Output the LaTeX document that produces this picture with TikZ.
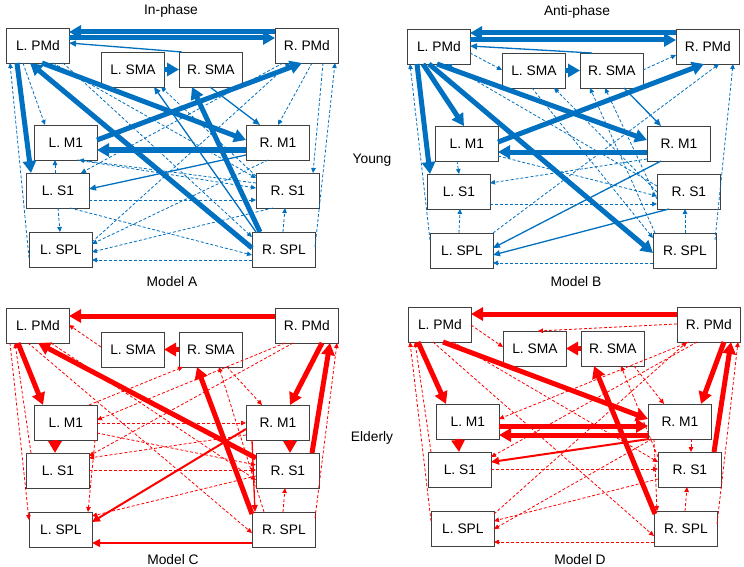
\documentclass[tikz,border=0pt]{standalone}
\usepackage{fontspec}
\setmainfont{Liberation Sans}
\usetikzlibrary{arrows.meta}
\definecolor{myblue}{RGB}{0,112,192}
\definecolor{myred}{RGB}{255,0,0}
\definecolor{boxc}{RGB}{64,64,64}
\colorlet{ec}{myblue}
% edge: [style]{from}{dx,dy from its top-left}{to}{dx,dy from its top-left}
\newcommand\E[5][dsh]{\draw[#1] ([shift={(#3)}]#2.north west) -- ([shift={(#5)}]#4.north west);}
\newcommand\brainnodes{%
  \node[box] (LPMd) at (6,28) {L. PMd};
  \node[box] (LSMA) at (101,52) {L. SMA};
  \node[box] (RSMA) at (179,52) {R. SMA};
  \node[box] (RPMd) at (275,28) {R. PMd};
  \node[box] (LM1) at (34,125) {L. M1};
  \node[box] (RM1) at (246,125) {R. M1};
  \node[box] (LS1) at (26,173) {L. S1};
  \node[box] (RS1) at (256,173) {R. S1};
  \node[box] (LSPL) at (29,232) {L. SPL};
  \node[box] (RSPL) at (252,232) {R. SPL};
}
\begin{document}
\begin{tikzpicture}[x=1pt,y=-1pt,
  box/.style={draw=boxc, fill=white, line width=0.8pt, minimum width=63pt,
    minimum height=35pt, inner sep=0pt, anchor=north west,
    font=\fontsize{13.8}{16}\selectfont},
  lbl/.style={font=\fontsize{13.8}{16}\selectfont, inner sep=0pt},
  thk/.style={draw=ec, line width=5pt, -{Triangle[length=12pt,width=13pt]}},
  sol/.style={draw=ec, line width=1.3pt, -{Triangle[length=7pt,width=6pt]}},
  med/.style={draw=ec, line width=2pt, -{Triangle[length=8pt,width=7.5pt]}},
  dsh/.style={draw=ec, line width=0.8pt, dash pattern=on 3pt off 2pt, -{Triangle[length=5pt,width=4.5pt]}}]
\useasboundingbox[fill=white] (0,0) rectangle (744,567);

\node[lbl] (tA) at (171,11) {In-phase};
\node[lbl] (tB) at (577,12) {Anti-phase};
\node[lbl] (mA) at (172,282) {Model A};
\node[lbl] (mB) at (576,282) {Model B};
\node[lbl] (mC) at (173,560) {Model C};
\node[lbl] (mD) at (580,560) {Model D};
\node[lbl] (young) at (372,160) {Young};
\node[lbl] (elderly) at (372,438) {Elderly};

% ---------------- Panel A ----------------
\begin{scope}[name prefix=A-]
\colorlet{ec}{myblue}
\brainnodes
\E{LSPL}{0,26}{LPMd}{4,35}
\E{LPMd}{17,35}{LM1}{11,0}
\E{LPMd}{47,35}{RS1}{0,5}
\E{LPMd}{57,35}{RSPL}{0,5}
\E{LS1}{29,0}{LM1}{21,35}
\E{LS1}{32,35}{LSPL}{31,0}
\E{LS1}{63,27}{RS1}{0,27}
\E{RSPL}{0,28}{LSPL}{63,28}
\E{LS1}{44,35}{RSPL}{0,23}
\E{RSPL}{31,0}{RS1}{29,35}
\E{RSPL}{63,15}{RPMd}{60,35}
\E{RPMd}{37,35}{RM1}{32,0}
\E{RPMd}{48,35}{RS1}{57,0}
\E{LSPL}{63,10}{RPMd}{15,35}
\E{RPMd}{8,35}{LS1}{55,0}
\E{LM1}{43,35}{RS1}{0,15}
\E{RS1}{0,10}{LM1}{45,35}
\E{RS1}{17,35}{LSPL}{63,20}
\E{RM1}{22,35}{LSPL}{63,12}
\E{RS1}{0,3}{LSMA}{60,35}
\E[thk]{RPMd}{0,4}{LPMd}{63,4}
\E[thk]{LPMd}{63,10}{RPMd}{0,10}
\E[sol]{RSMA}{3,0}{LPMd}{63,15}
\E[thk]{LSMA}{63,17.5}{RSMA}{0,17.5}
\E[thk]{LPMd}{11,35}{LS1}{5,0}
\E[thk]{LPMd}{36,35}{RM1}{0,15}
\E[thk]{RSPL}{0,16}{LPMd}{24,35}
\E[thk]{RM1}{0,25}{LM1}{63,25}
\E[thk]{LM1}{63,15}{RPMd}{27,35}
\E[sol]{RM1}{0,30}{LS1}{63,16}
\E[thk]{RSPL}{8,0}{RSMA}{13,35}
\E[sol]{RSPL}{4,0}{LSMA}{53,35}
\E[sol]{RSMA}{31,35}{RM1}{14,0}
\end{scope}

% ---------------- Panel B ----------------
\begin{scope}[shift={(401,1)}, name prefix=B-]
\colorlet{ec}{myblue}
\brainnodes
\E{LSPL}{0,7}{LPMd}{3,35}
\E{LPMd}{63,24}{LSMA}{0,17}
\E{LM1}{22,35}{LS1}{32,0}
\E{LSPL}{29,0}{LS1}{33,35}
\E{LS1}{63,30}{RS1}{0,30}
\E{RSPL}{0,30}{LSPL}{63,30}
\E{RSPL}{32,0}{RS1}{28,35}
\E{RSPL}{62,7}{RPMd}{57,35}
\E{RSMA}{63,17}{RPMd}{0,26}
\E{LSPL}{63,0}{RPMd}{43,35}
\E{RM1}{0,33}{LS1}{63,9}
\E{LM1}{63,30}{RS1}{0,22}
\E{RSPL}{2,0}{RSMA}{10,35}
\E{RS1}{0,25}{RSMA}{25,35}
\E{RS1}{0,18}{LSMA}{52,35}
\E{LSMA}{30,35}{RSPL}{0,5}
\E{RS1}{0,12}{LPMd}{40,35}
\E[thk]{RPMd}{0,4}{LPMd}{63,4}
\E[thk]{LPMd}{63,11}{RPMd}{0,11}
\E[sol]{RSMA}{12,0}{LPMd}{63,17}
\E[thk]{LSMA}{63,17.5}{RSMA}{0,17.5}
\E[thk]{LPMd}{10,35}{LS1}{3,0}
\E[thk]{LPMd}{16,35}{LM1}{29,0}
\E[thk]{LPMd}{30,35}{RM1}{0,14}
\E[thk]{LPMd}{22,35}{RSPL}{0,20}
\E[thk]{RM1}{0,26}{LM1}{63,26}
\E[thk]{LM1}{63,16}{RPMd}{28,35}
\E[sol]{RSMA}{44,35}{RM1}{14,0}
\E[sol]{RM1}{14,35}{LSPL}{63,15}
\E[sol]{RS1}{12,35}{LSPL}{63,22}
\end{scope}

% ---------------- Panel C ----------------
\begin{scope}[shift={(0,280)}, name prefix=C-]
\colorlet{ec}{myred}
\brainnodes
\E{LSMA}{0,15}{LPMd}{63,17}
\E{LPMd}{4,35}{LSPL}{0,8}
\E{LS1}{5,0}{LPMd}{9,35}
\E{LPMd}{22,35}{RSPL}{0,21}
\E{LPMd}{45,35}{RS1}{0,27}
\E{LM1}{63,18}{RM1}{0,18}
\E{LM1}{63,28}{RS1}{0,12}
\E{LS1}{63,17}{RS1}{0,17}
\E{RM1}{0,30}{LS1}{63,5}
\E{LM1}{61,35}{LSPL}{59,0}
\E{RS1}{0,23}{LSPL}{63,4}
\E{LM1}{55,0}{RSMA}{4,35}
\E{RPMd}{10,35}{LM1}{63,15}
\E{RPMd}{18,35}{LS1}{63,3}
\E{RSMA}{48,35}{RM1}{16,0}
\E{RSPL}{31,0}{RS1}{29,35}
\E{RSPL}{63,6}{RPMd}{62,35}
\E{RSPL}{12,0}{RSMA}{40,35}
\E[thk]{RPMd}{0,8}{LPMd}{63,8}
\E[thk]{RSMA}{0,17.5}{LSMA}{63,17.5}
\E[thk]{LPMd}{12,35}{LM1}{9,0}
\E[thk]{LM1}{21,35}{LS1}{29,0}
\E[thk]{RS1}{0,5}{LPMd}{32,35}
\E[thk]{RSPL}{0,2}{RSMA}{18,35}
\E[thk]{RPMd}{47,35}{RM1}{44,0}
\E[thk]{RS1}{56,0}{RPMd}{55,35}
\E[thk]{RM1}{44,35}{RS1}{34,0}
\E[med]{RM1}{0,24}{LSPL}{63,10}
\E[med]{RSPL}{0,31}{LSPL}{63,31}
\E[sol]{RM1}{6,35}{RSPL}{3,0}
\end{scope}

% ---------------- Panel D ----------------
\begin{scope}[shift={(402,279)}, name prefix=D-]
\colorlet{ec}{myred}
\brainnodes
\E{LSPL}{0,10}{LPMd}{2,35}
\E{LS1}{3,0}{LPMd}{7,35}
\E{LPMd}{63,18}{LSMA}{0,16}
\E{RPMd}{0,17}{LSMA}{35,0}
\E{LPMd}{25,35}{RSPL}{0,25}
\E{LPMd}{45,35}{RS1}{0,10}
\E{LS1}{63,17}{RS1}{0,17}
\E{RSPL}{0,31}{LSPL}{63,31}
\E{RSPL}{31,0}{RS1}{29,35}
\E{RSPL}{63,13}{RPMd}{61,35}
\E{RM1}{43,35}{RS1}{33,0}
\E{RM1}{6,35}{RSPL}{3,0}
\E{RSMA}{53,35}{RM1}{16,0}
\E{RS1}{0,5}{RSMA}{40,35}
\E{RPMd}{12,35}{LM1}{63,15}
\E{RPMd}{20,35}{LS1}{63,5}
\E{RS1}{0,27}{LSPL}{63,10}
\E{RM1}{4,35}{LSPL}{63,18}
\E{LSPL}{63,3}{RPMd}{10,35}
\E[thk]{RPMd}{0,7}{LPMd}{63,7}
\E[thk]{RSMA}{0,17.5}{LSMA}{63,17.5}
\E[thk]{LPMd}{10,35}{LM1}{10,0}
\E[thk]{LPMd}{35,35}{RM1}{0,15}
\E[thk]{LM1}{63,22}{RM1}{0,22}
\E[thk]{RM1}{0,31}{LM1}{63,31}
\E[thk]{LM1}{22,35}{LS1}{31,0}
\E[med]{RM1}{1,35}{LS1}{63,10}
\E[thk]{RPMd}{47,35}{RM1}{53,0}
\E[thk]{RS1}{56,0}{RPMd}{54,35}
\E[thk]{RSPL}{1,3}{RSMA}{13,35}
\end{scope}
\end{tikzpicture}
\end{document}
